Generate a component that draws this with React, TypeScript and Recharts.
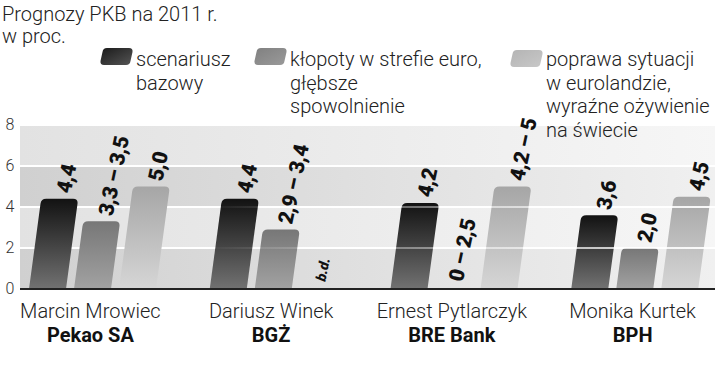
import React from "react";
import {
  BarChart,
  Bar,
  XAxis,
  YAxis,
  CartesianGrid,
  ReferenceLine,
  LabelList,
} from "recharts";

// Prognozy PKB na 2011 r., w proc.
const economists = ["Marcin Mrowiec", "Dariusz Winek", "Ernest Pytlarczyk", "Monika Kurtek"];
const banks = ["Pekao SA", "BGŻ", "BRE Bank", "BPH"];

const baseValues = [4.4, 4.4, 4.2, 3.6];
const baseLabels = ["4,4", "4,4", "4,2", "3,6"];
const crisisValues = [3.3, 2.9, 0, 2.0];
const crisisLabels = ["3,3 – 3,5", "2,9 – 3,4", "0 – 2,5", "2,0"];
const recoveryValues = [5.0, 0, 5.0, 4.5];
const recoveryLabels = ["5,0", "b.d.", "4,2 – 5", "4,5"];

const yTicks = [0, 2, 4, 6, 8];
const gridOverlay = [2, 4, 6];

const titleLines = ["Prognozy PKB na 2011 r.", "w proc."];
const legendLines = [
  ["scenariusz", "bazowy"],
  ["kłopoty w strefie euro,", "głębsze", "spowolnienie"],
  ["poprawa sytuacji", "w eurolandzie,", "wyraźne ożywienie", "na świecie"],
];
const legendFills = ["url(#lgDark)", "url(#lgMid)", "url(#lgLight)"];

const data = economists.map((name, i) => ({
  name,
  bank: banks[i],
  base: baseValues[i],
  baseLabel: baseLabels[i],
  crisis: crisisValues[i],
  crisisLabel: crisisLabels[i],
  recovery: recoveryValues[i],
  recoveryLabel: recoveryLabels[i],
}));

const W = 720;
const H = 380;
const TOP = 125;
const BOTTOM = 289;
const SLANT = 0.135;
const FONT = "Roboto, 'Noto Sans', sans-serif";

function SlantBar(props: any) {
  const { x, y, width, height, fill } = props;
  if (!height || height <= 0) return null;
  const s = height * SLANT;
  const r = Math.min(5, height / 2);
  const b = y + height;
  const d = [
    `M${x},${b}`,
    `L${x + s - (s * r) / height},${y + r}`,
    `Q${x + s},${y} ${x + s + r},${y}`,
    `L${x + width + s - r},${y}`,
    `Q${x + width + s},${y} ${x + width + s - (s * r) / height},${y + r}`,
    `L${x + width},${b}`,
    "Z",
  ].join(" ");
  return <path d={d} fill={fill} />;
}

function valueLabel(props: any) {
  const vb = props.viewBox ?? props;
  const x = Number(vb.x ?? props.x);
  const y = Number(vb.y ?? props.y);
  const width = Number(vb.width ?? props.width);
  const height = Number(vb.height ?? props.height) || 0;
  const value = String(props.value ?? "");
  const small = value === "b.d.";
  const s = height * SLANT;
  const ax = x + width / 2 + s + (height > 0 ? 4 : 2);
  const ay = y - (height > 0 ? 6 : 8);
  return (
    <text
      x={ax}
      y={ay}
      transform={`rotate(-78 ${ax} ${ay})`}
      textAnchor="start"
      dominantBaseline="central"
      fontFamily={FONT}
      fontWeight={900}
      fontStyle={small ? "italic" : "normal"}
      fontSize={small ? 14 : 21}
      letterSpacing={small ? 0 : -0.3}
      fill="#111"
    >
      {value}
    </text>
  );
}

function CategoryTick(props: any) {
  const { x, payload, index } = props;
  return (
    <g>
      <text
        x={x - 2}
        y={BOTTOM + 29}
        textAnchor="middle"
        fontFamily={FONT}
        fontWeight={300}
        fontSize={20}
        fill="#222"
      >
        {payload.value}
      </text>
      <text
        x={x - 2}
        y={BOTTOM + 53}
        textAnchor="middle"
        fontFamily={FONT}
        fontWeight={700}
        fontSize={20}
        fill="#111"
      >
        {banks[index]}
      </text>
    </g>
  );
}

function ValueTick(props: any) {
  const { y, payload } = props;
  return (
    <text
      x={10}
      y={y}
      dy={5}
      textAnchor="middle"
      fontFamily={FONT}
      fontWeight={300}
      fontSize={16}
      fill="#333"
    >
      {payload.value}
    </text>
  );
}

function Swatch({ x, y, fill }: { x: number; y: number; fill: string }) {
  const w = 30;
  const h = 17;
  const s = 3;
  const r = 4;
  const d = `M${x + r},${y + h} Q${x},${y + h} ${x + 0.5},${y + h - r} L${x + s - 0.5},${y + r} Q${x + s},${y} ${
    x + s + r
  },${y} L${x + w + s - r},${y} Q${x + w + s},${y} ${x + w + s - 0.5},${y + r} L${x + w + 0.5},${y + h - r} Q${
    x + w
  },${y + h} ${x + w - r},${y + h} Z`;
  return <path d={d} fill={fill} />;
}

const legendPos = [
  { sx: 100, sy: 48, tx: 136 },
  { sx: 254, sy: 48, tx: 290 },
  { sx: 510, sy: 50, tx: 546 },
];

export default function App() {
  return (
    <div style={{ position: "absolute", left: 0, top: 0, width: W, height: H, background: "#fff" }}>
      <svg width={0} height={0} style={{ position: "absolute" }}>
        <defs>
          <linearGradient id="barDark" x1="0" y1="0" x2="0" y2="1">
            <stop offset="0%" stopColor="#121212" />
            <stop offset="100%" stopColor="#727272" />
          </linearGradient>
          <linearGradient id="barMid" x1="0" y1="0" x2="0" y2="1">
            <stop offset="0%" stopColor="#777777" />
            <stop offset="100%" stopColor="#a2a2a2" />
          </linearGradient>
          <linearGradient id="barLight" x1="0" y1="0" x2="0" y2="1">
            <stop offset="0%" stopColor="#a6a6a6" />
            <stop offset="100%" stopColor="#d6d6d6" />
          </linearGradient>
          <linearGradient id="lgDark" x1="0" y1="0" x2="1" y2="1">
            <stop offset="0%" stopColor="#1a1a1a" />
            <stop offset="100%" stopColor="#555" />
          </linearGradient>
          <linearGradient id="lgMid" x1="0" y1="0" x2="1" y2="1">
            <stop offset="0%" stopColor="#808080" />
            <stop offset="100%" stopColor="#9a9a9a" />
          </linearGradient>
          <linearGradient id="lgLight" x1="0" y1="0" x2="1" y2="1">
            <stop offset="0%" stopColor="#b4b4b4" />
            <stop offset="100%" stopColor="#c8c8c8" />
          </linearGradient>
          <linearGradient id="bandLight" x1="0" y1="0" x2="1" y2="0">
            <stop offset="0%" stopColor="#e2e2e2" />
            <stop offset="100%" stopColor="#f6f6f6" />
          </linearGradient>
          <linearGradient id="bandDark" x1="0" y1="0" x2="1" y2="0">
            <stop offset="0%" stopColor="#d0d0d0" />
            <stop offset="100%" stopColor="#f0f0f0" />
          </linearGradient>
          <linearGradient id="gridFade" gradientUnits="userSpaceOnUse" x1="200" y1="0" x2="720" y2="0">
            <stop offset="0%" stopColor="#ffffff" stopOpacity={0} />
            <stop offset="100%" stopColor="#ffffff" stopOpacity={0.95} />
          </linearGradient>
        </defs>
      </svg>

      <BarChart
        width={W}
        height={H}
        data={data}
        barSize={37}
        barGap={8}
        margin={{ top: TOP, right: 5, bottom: 31, left: 0 }}
      >
        <CartesianGrid
          vertical={false}
          stroke="#ffffff"
          strokeWidth={2}
          horizontalFill={["url(#bandLight)", "url(#bandDark)"]}
          fillOpacity={1}
        />
        <XAxis
          dataKey="name"
          height={60}
          padding={{ left: -18, right: -10 }}
          tickLine={false}
          axisLine={{ stroke: "#222", strokeWidth: 2 }}
          tick={<CategoryTick />}
          interval={0}
        />
        <YAxis
          width={20}
          domain={[0, 8]}
          ticks={yTicks}
          tickLine={false}
          axisLine={false}
          tick={<ValueTick />}
        />
        <Bar dataKey="base" fill="url(#barDark)" shape={<SlantBar />} isAnimationActive={false}>
          <LabelList dataKey="baseLabel" content={valueLabel} />
        </Bar>
        <Bar dataKey="crisis" fill="url(#barMid)" shape={<SlantBar />} isAnimationActive={false}>
          <LabelList dataKey="crisisLabel" content={valueLabel} />
        </Bar>
        <Bar dataKey="recovery" fill="url(#barLight)" shape={<SlantBar />} isAnimationActive={false}>
          <LabelList dataKey="recoveryLabel" content={valueLabel} />
        </Bar>
        {gridOverlay.map((v) => (
          <ReferenceLine key={v} y={v} stroke="url(#gridFade)" strokeWidth={2} ifOverflow="hidden" />
        ))}
      </BarChart>

      <svg width={W} height={150} style={{ position: "absolute", left: 0, top: 0, pointerEvents: "none" }}>
        {titleLines.map((t, i) => (
          <text key={t} x={2} y={21 + i * 22} fontFamily={FONT} fontWeight={300} fontSize={20} fill="#222">
            {t}
          </text>
        ))}
        {legendLines.map((lines, i) => (
          <g key={i}>
            <Swatch x={legendPos[i].sx} y={legendPos[i].sy} fill={legendFills[i]} />
            {lines.map((l, j) => (
              <text
                key={l}
                x={legendPos[i].tx}
                y={66 + j * 23.7}
                fontFamily={FONT}
                fontWeight={300}
                fontSize={20}
                fill="#222"
              >
                {l}
              </text>
            ))}
          </g>
        ))}
      </svg>
    </div>
  );
}
